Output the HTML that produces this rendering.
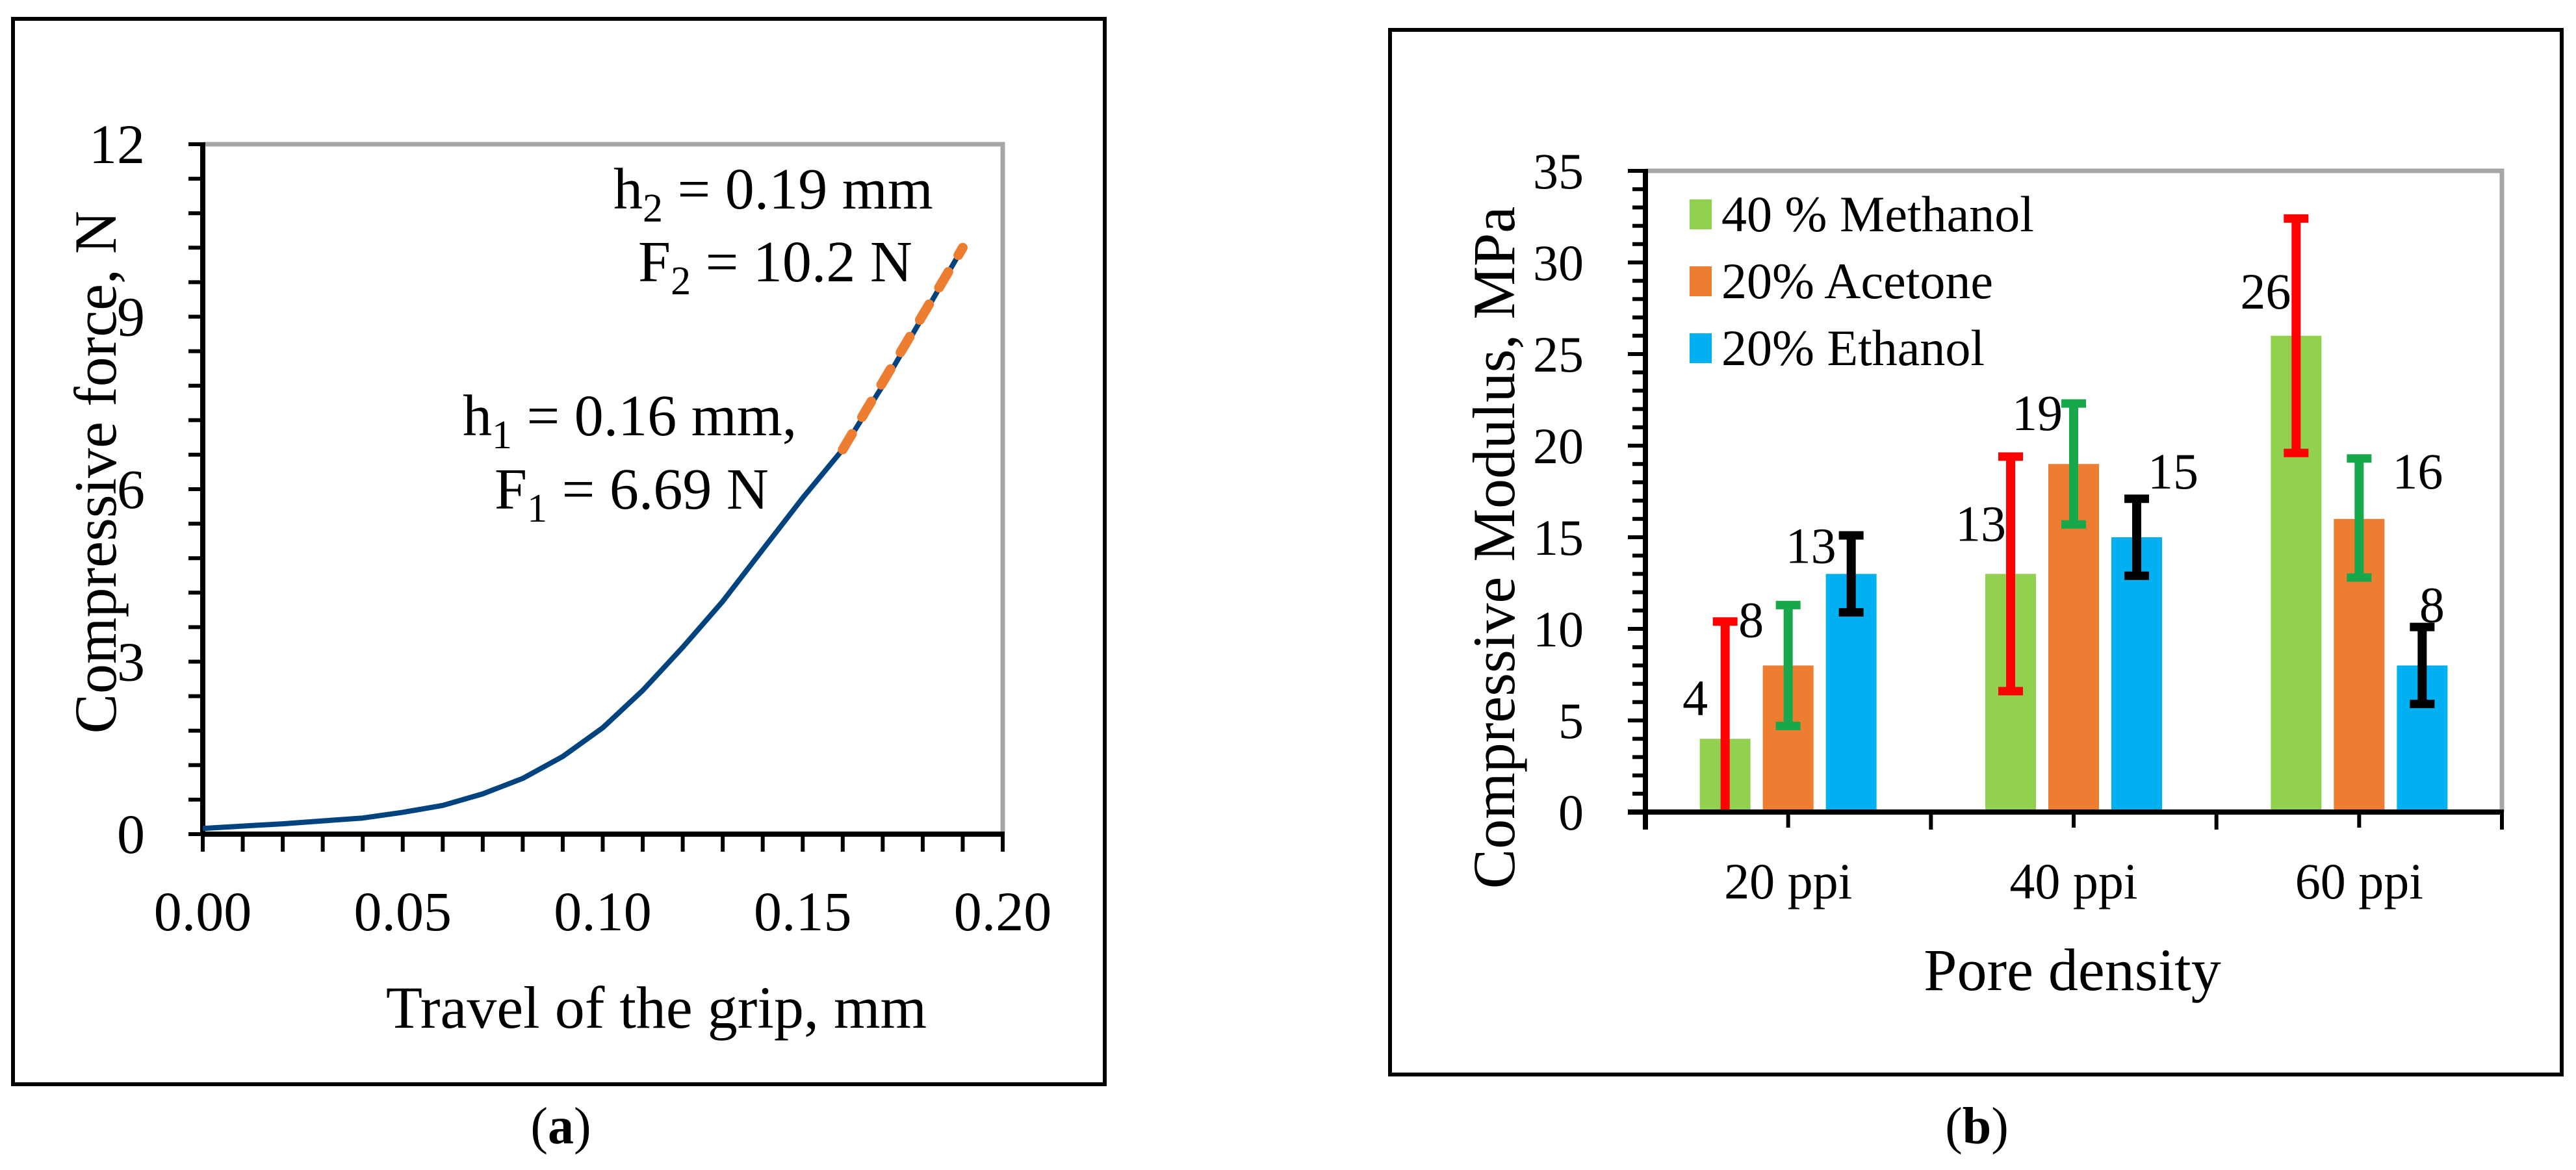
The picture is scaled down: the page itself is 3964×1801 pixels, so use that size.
<!DOCTYPE html>
<html><head><meta charset="utf-8"><style>
html,body{margin:0;padding:0;background:#fff;}
svg{display:block;font-family:"Liberation Serif",serif;}
</style></head><body>
<svg id="fig" width="3964" height="1801" viewBox="0 0 3964 1801" xmlns="http://www.w3.org/2000/svg">
<rect x="20" y="29" width="1680" height="1640" fill="none" stroke="#000" stroke-width="6"/>
<rect x="2139" y="46" width="1803" height="1608" fill="none" stroke="#000" stroke-width="6"/>
<g id="chartA"></g>
<g id="chartB"></g>
<text x="863" y="1760" font-size="80" text-anchor="middle">(<tspan font-weight="bold">a</tspan>)</text>
<text x="3042" y="1760" font-size="80" text-anchor="middle">(<tspan font-weight="bold">b</tspan>)</text>
</svg>
<script>
// ---- Chart A data ----
const travelX = [0, 0.01, 0.02, 0.03, 0.04, 0.05, 0.06, 0.07, 0.08, 0.09, 0.10, 0.11, 0.12, 0.13, 0.14, 0.15, 0.16, 0.17, 0.18, 0.19];
const forceY = [0.1, 0.14, 0.18, 0.23, 0.28, 0.38, 0.5, 0.7, 0.97, 1.35, 1.85, 2.5, 3.25, 4.05, 4.95, 5.85, 6.69, 7.8, 9.0, 10.2];
const fitX = [0.16, 0.19];
const fitY = [6.69, 10.2];
const aYTicks = [0, 3, 6, 9, 12];
const aXTicks = [0, 0.05, 0.10, 0.15, 0.20];
const aXTickLabels = ["0.00", "0.05", "0.10", "0.15", "0.20"];

// ---- Chart B data ----
const categories = ["20 ppi", "40 ppi", "60 ppi"];
const seriesNames = ["40 % Methanol", "20% Acetone", "20% Ethanol"];
const methanol = [4, 13, 26];
const acetone = [8, 19, 16];
const ethanol = [13, 15, 8];
const methanolErrLow = [0, 6.6, 19.6];
const methanolErrHigh = [10.4, 19.4, 32.4];
const acetoneErrLow = [4.7, 15.7, 12.8];
const acetoneErrHigh = [11.3, 22.3, 19.3];
const ethanolErrLow = [10.9, 12.9, 5.9];
const ethanolErrHigh = [15.1, 17.1, 10.1];
const bYTicks = [0, 5, 10, 15, 20, 25, 30, 35];

const NS = "http://www.w3.org/2000/svg";
function mk(tag, attrs, parent, text) {
  const e = document.createElementNS(NS, tag);
  for (const k in attrs) e.setAttribute(k, attrs[k]);
  if (text !== undefined) e.textContent = text;
  parent.appendChild(e);
  return e;
}

// ===== Chart A =====
(function () {
  const g = document.getElementById('chartA');
  const L = 312, R = 1543, T = 222, B = 1284;
  const xs = v => L + (v / 0.2) * (R - L);
  const ys = v => B - (v / 12) * (B - T);
  let e;
  e = mk('path', { d: `M${L},${T}H${R}V${B}`, fill: 'none', stroke: '#a6a6a6', 'stroke-width': 7 }, g);
  
  
  for (let i = 0; i <= 20; i++) {
    const y = ys(i * 0.6);
    e = mk('line', { x1: L - 22, x2: L, y1: y, y2: y, stroke: '#000', 'stroke-width': 6 }, g);
    
    
  }
  for (let i = 0; i <= 20; i++) {
    const x = xs(i * 0.01);
    e = mk('line', { x1: x, x2: x, y1: B, y2: B + 27, stroke: '#000', 'stroke-width': 6 }, g);
    
    
  }
  e = mk('line', { x1: L, x2: L, y1: T - 3, y2: B + 3, stroke: '#000', 'stroke-width': 8 }, g);
  
  
  e = mk('line', { x1: L - 3, x2: R + 3, y1: B, y2: B, stroke: '#000', 'stroke-width': 8 }, g);
  
  
  aYTicks.forEach(v => {
    e = mk('text', { x: 223, y: ys(v) + 29, 'font-size': 86, 'text-anchor': 'end' }, g, String(v));
    
    
  });
  aXTicks.forEach((v, i) => {
    e = mk('text', { x: xs(v), y: 1432, 'font-size': 86, 'text-anchor': 'middle' }, g, aXTickLabels[i]);
    
    
  });
  e = mk('text', { x: 0, y: 0, 'font-size': 92, 'text-anchor': 'middle', transform: 'translate(178,727) rotate(-90)' }, g, 'Compressive force, N');
  
  
  e = mk('text', { x: 1010, y: 1582, 'font-size': 92, 'text-anchor': 'middle' }, g, 'Travel of the grip, mm');
  
  
  let d = travelX.map((v, i) => (i ? 'L' : 'M') + xs(v).toFixed(1) + ',' + ys(forceY[i]).toFixed(1)).join('');
  e = mk('path', { d, fill: 'none', stroke: '#00437f', 'stroke-width': 8, 'stroke-linejoin': 'round' }, g);
  
  
  d = fitX.map((v, i) => (i ? 'L' : 'M') + xs(v).toFixed(1) + ',' + ys(fitY[i]).toFixed(1)).join('');
  e = mk('path', { d, fill: 'none', stroke: '#ed7d31', 'stroke-width': 15, 'stroke-linecap': 'round', 'stroke-dasharray': '28 30' }, g);
  
  
  const ann = [[944, 321, 'h', '2', ' = 0.19 mm'], [982, 433, 'F', '2', ' = 10.2 N'], [712, 670, 'h', '1', ' = 0.16 mm,'], [761, 783, 'F', '1', ' = 6.69 N']];
  ann.forEach(a => {
    const t = mk('text', { x: a[0], y: a[1], 'font-size': 90 }, g);
    
    
    mk('tspan', {}, t, a[2]);
    mk('tspan', { dy: 20, 'font-size': 62 }, t, a[3]);
    mk('tspan', { dy: -20 }, t, a[4]);
  });
})();

// ===== Chart B =====
(function () {
  const g = document.getElementById('chartB');
  const L = 2532, R = 3850, T = 263, B = 1250;
  const ys = v => B - (v / 35) * (B - T);
  const gw = (R - L) / categories.length;
  const cx = i => L + gw * (i + 0.5);
  const barW = 78, off = [-97, 0, 97];
  const colors = ['#92d050', '#ed7d31', '#00b0f0'];
  const errColors = ['#ff0000', '#17a84b', '#000000'];
  const vals = [methanol, acetone, ethanol];
  const lows = [methanolErrLow, acetoneErrLow, ethanolErrLow];
  const highs = [methanolErrHigh, acetoneErrHigh, ethanolErrHigh];
  const labelDx = [[-46, -46, -47], [-57, -56, 90], [-62, 56, 15]];
  const labelDy = [[-63, -78, -69], [-71, -79, -74], [-44, -102, -94]];
  let e;
  e = mk('path', { d: `M${L},${T}H${R}V${B}`, fill: 'none', stroke: '#a6a6a6', 'stroke-width': 7 }, g);
  
  
  for (let i = 0; i <= 35; i++) {
    const y = ys(i);
    e = mk('line', { x1: (i % 5 === 0) ? L - 27 : L - 20, x2: L, y1: y, y2: y, stroke: '#000', 'stroke-width': 6 }, g);
    
    
  }
  for (let i = 0; i <= categories.length; i++) {
    const x = L + gw * i;
    e = mk('line', { x1: x, x2: x, y1: B, y2: B + 27, stroke: '#000', 'stroke-width': 6 }, g);
    
    
  }
  categories.forEach((c, i) => {
    e = mk('line', { x1: cx(i), x2: cx(i), y1: B, y2: B + 24, stroke: '#000', 'stroke-width': 6 }, g);
    
    
    e = mk('text', { x: cx(i), y: 1383, 'font-size': 78, 'text-anchor': 'middle' }, g, c);
    
    
  });
  bYTicks.forEach(v => {
    e = mk('text', { x: 2437, y: ys(v) + 27, 'font-size': 78, 'text-anchor': 'end' }, g, String(v));
    
    
  });
  for (let s = 0; s < 3; s++) {
    for (let i = 0; i < categories.length; i++) {
      const x = cx(i) + off[s];
      e = mk('rect', { x: x - barW / 2, y: ys(vals[s][i]), width: barW, height: B - ys(vals[s][i]), fill: colors[s] }, g);
      
      
    }
  }
  for (let s = 0; s < 3; s++) {
    for (let i = 0; i < categories.length; i++) {
      const x = cx(i) + off[s];
      const y1 = ys(lows[s][i]), y2 = ys(highs[s][i]);
      const eg = mk('g', { stroke: errColors[s] }, g);
      
      
      mk('line', { x1: x, x2: x, y1: y1, y2: y2, 'stroke-width': 14 }, eg);
      mk('line', { x1: x - 19, x2: x + 19, y1: y2, y2: y2, 'stroke-width': 13 }, eg);
      if (lows[s][i] > 0) mk('line', { x1: x - 19, x2: x + 19, y1: y1, y2: y1, 'stroke-width': 13 }, eg);
      e = mk('text', { x: x + labelDx[s][i], y: ys(vals[s][i]) + labelDy[s][i] + 27, 'font-size': 78, 'text-anchor': 'middle' }, g, String(vals[s][i]));
      
      
    }
  }
  e = mk('line', { x1: L, x2: L, y1: T - 3, y2: B + 27, stroke: '#000', 'stroke-width': 8 }, g);
  
  
  e = mk('line', { x1: L - 27, x2: R + 3, y1: B, y2: B, stroke: '#000', 'stroke-width': 8 }, g);
  
  
  seriesNames.forEach((n, s) => {
    const lg = mk('g', {}, g);
    
    
    const y = 307 + s * 103;
    mk('rect', { x: 2600, y: y, width: 34, height: 46, fill: colors[s] }, lg);
    mk('text', { x: 2649, y: y + 49, 'font-size': 78 }, lg, n);
  });
  e = mk('text', { x: 0, y: 0, 'font-size': 92, 'text-anchor': 'middle', transform: 'translate(2330,843) rotate(-90)' }, g, 'Compressive Modulus, MPa');
  
  
  e = mk('text', { x: 3189, y: 1524, 'font-size': 92, 'text-anchor': 'middle' }, g, 'Pore density');
  
  
})();
</script>
</body></html>
